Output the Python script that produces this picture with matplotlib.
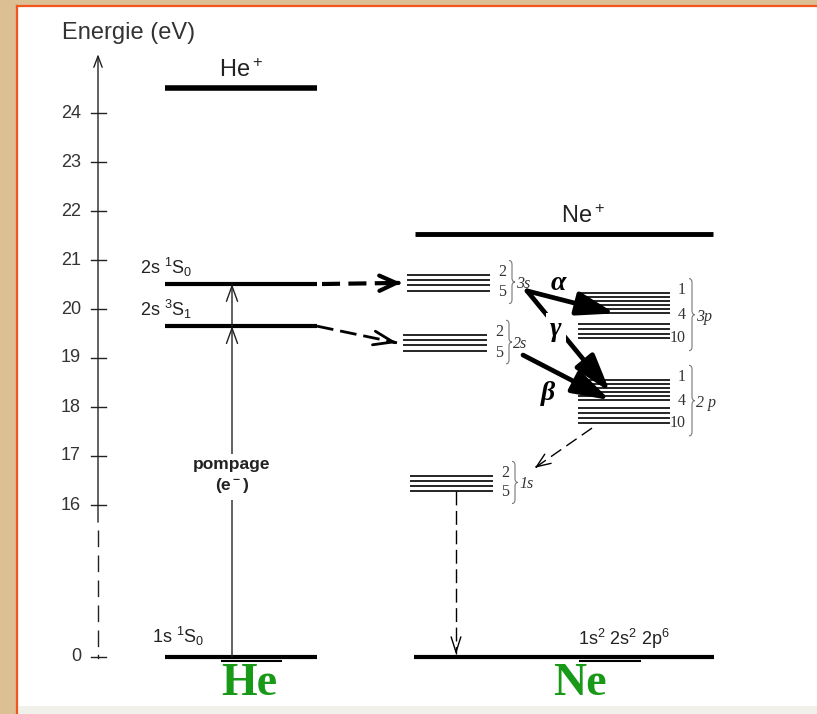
"""
He-Ne laser energy level diagram (He and Ne levels, pumping and transitions).
"""
import matplotlib
matplotlib.use("Agg")
import matplotlib.pyplot as plt
from matplotlib.patches import Rectangle, PathPatch
from matplotlib.path import Path

plt.rcParams["font.family"] = ["Liberation Sans", "DejaVu Sans"]
plt.rcParams["mathtext.fontset"] = "custom"
plt.rcParams["mathtext.rm"] = "Liberation Sans"
plt.rcParams["mathtext.it"] = "Liberation Sans:italic"
plt.rcParams["mathtext.bf"] = "Liberation Sans:bold"
plt.rcParams["lines.scale_dashes"] = False

# ── Data (energies in eV) ────────────────────────────────────────────────────
tick_values = [0, 16, 17, 18, 19, 20, 21, 22, 23, 24]

he_ion = 24.51
he_labels = [r"2s $^1$S$_0$", r"2s $^3$S$_1$", r"1s $^1$S$_0$"]
he_levels = [20.51, 19.65, 0.0]

ne_ion = 21.53
ne_3s = [20.69, 20.59, 20.48, 20.37]
ne_2s = [19.47, 19.37, 19.26, 19.14]
ne_3p = [20.32, 20.24, 20.16, 20.08, 19.99, 19.91, 19.69, 19.59, 19.50, 19.41]
ne_2p = [18.55, 18.47, 18.39, 18.31, 18.22, 18.14, 17.98, 17.88, 17.78, 17.67]
ne_1s = [16.59, 16.49, 16.39, 16.29]
ne_ground = 0.0
ne_ground_label = r"1s$^2$ 2s$^2$ 2p$^6$"

s_numbers = ["2", "5"]
p_numbers = ["1", "4", "10"]

# ── Layout (x in pixels, y in eV) ────────────────────────────────────────────
PX_PER_EV = 49.0
E_REF, Y_REF = 16.0, 505.0       # 16 eV sits at pixel row 505
GROUND_Y = 12.9                  # where 0 eV is drawn on the broken axis


def ey(ypx):
    """pixel row -> diagram y"""
    return E_REF + (Y_REF - ypx) / PX_PER_EV


def ypos(e):
    return e if e > 10 else GROUND_Y + e


AX_X = 98
HE_X = (165, 317)
PUMP_X = 232
NE_ION_X = (415, 713)
NE_3S_X = (407, 490)
NE_2S_X = (403, 487)
NE_1S_X = (410, 493)
NE_P_X = (578, 670)
NE_GND_X = (414, 714)
INK = "#222222"
GREY = "#333333"
GREEN = "#189a18"

fig = plt.figure(figsize=(8.17, 7.14), dpi=100)
fig.patch.set_facecolor("#dcbf92")
ax = fig.add_axes([0, 0, 1, 1])
ax.set_xlim(0, 817)
ax.set_ylim(ey(714), ey(0))
ax.axis("off")

# panel
ax.add_patch(Rectangle((17, ey(706)), 800, ey(6) - ey(706), fc="white", ec="none", zorder=0))
ax.add_patch(Rectangle((17, ey(714)), 800, ey(706) - ey(714), fc="#f1f0ea", ec="none", zorder=0))
ax.plot([17, 17], [ey(714), ey(6)], color="#f2561d", lw=1.6, zorder=1)
ax.plot([17, 817], [ey(6), ey(6)], color="#f2561d", lw=1.6, zorder=1)

# ── Energy axis ──────────────────────────────────────────────────────────────
ax.annotate("", xy=(AX_X, 25.2), xytext=(AX_X, 15.65),
            arrowprops=dict(arrowstyle="->,head_length=0.8,head_width=0.3",
                            lw=1.0, color=INK, shrinkA=0, shrinkB=0))
ax.plot([AX_X, AX_X], [15.48, GROUND_Y + 0.12], color=INK, lw=1.0, dashes=(12, 6))
ax.plot([AX_X, AX_X], [GROUND_Y + 0.03, GROUND_Y - 0.03], color=INK, lw=1.0)
for t in tick_values:
    ax.plot([91, 106], [ypos(t), ypos(t)], color=INK, lw=1.0)
    ax.text(81, ypos(t), str(t), ha="right", va="center", fontsize=13, color=GREY)
ax.text(62, ey(33), "Energie (eV)", ha="left", va="center", fontsize=17, color=GREY)

# ── Helium ───────────────────────────────────────────────────────────────────
ax.plot(HE_X, [he_ion, he_ion], color="k", lw=4, solid_capstyle="butt")
ax.text(241, he_ion + 0.13, r"He$^+$", ha="center", va="bottom", fontsize=17, color=INK)
label_dy = [0.2, 0.2, 0.29]
for lab, e, dy in zip(he_labels, he_levels, label_dy):
    ax.plot(HE_X, [ypos(e), ypos(e)], color="k", lw=3, solid_capstyle="butt")
    ax.text(HE_X[0] - 25 if e > 0 else HE_X[0] - 13, ypos(e) + dy, lab,
            ha="left", va="baseline", fontsize=13, color=INK)
ax.plot([222, 281], [ypos(0) - 0.08] * 2, color="k", lw=1.5)
ax.text(249, ey(684), "He", ha="center", va="center", fontsize=33,
        family="Liberation Serif", weight="bold", color=GREEN)

# pumping by electrons
pump_head = dict(arrowstyle="->,head_length=1.1,head_width=0.4", lw=1.0,
                 color=INK, shrinkA=0, shrinkB=0)
ax.annotate("", xy=(PUMP_X, he_levels[1]), xytext=(PUMP_X, ypos(he_levels[2])),
            arrowprops=pump_head, zorder=2)
ax.annotate("", xy=(PUMP_X, he_levels[0]), xytext=(PUMP_X, he_levels[1]),
            arrowprops=pump_head, zorder=2)
ax.text(PUMP_X, ey(476), "pompage\n" + r"(e$^{\bf -}$)", ha="center", va="center",
        fontsize=12.5, weight="bold", color=INK, linespacing=1.25, zorder=4,
        bbox=dict(fc="white", ec="none", pad=4))

# ── Neon ─────────────────────────────────────────────────────────────────────
ax.plot(NE_ION_X, [ne_ion, ne_ion], color="k", lw=3.5, solid_capstyle="butt")
ax.text(583, ne_ion + 0.13, r"Ne$^+$", ha="center", va="bottom", fontsize=17, color=INK)

ax.plot(NE_GND_X, [ypos(ne_ground)] * 2, color="k", lw=3, solid_capstyle="butt")
ax.text(578, ypos(ne_ground) + 0.25, ne_ground_label, ha="left", va="baseline",
        fontsize=13, color=INK)
ax.plot([580, 640], [ypos(0) - 0.08] * 2, color="k", lw=1.5)
ax.text(580, ey(684), "Ne", ha="center", va="center", fontsize=33,
        family="Liberation Serif", weight="bold", color=GREEN)


def brace(x, e_top, e_bot, w=6):
    r = 4 / PX_PER_EV
    xm, xt, em = x + w / 2, x + w, (e_top + e_bot) / 2
    verts = [(x, e_top), (xm, e_top), (xm, e_top - r), (xm, em + r),
             (xm, em), (xt, em), (xm, em), (xm, em - r),
             (xm, e_bot + r), (xm, e_bot), (x, e_bot)]
    codes = [Path.MOVETO, Path.CURVE3, Path.CURVE3, Path.LINETO,
             Path.CURVE3, Path.CURVE3, Path.CURVE3, Path.CURVE3,
             Path.LINETO, Path.CURVE3, Path.CURVE3]
    ax.add_patch(PathPatch(Path(verts, codes), fill=False, ec="#777777", lw=0.8))
    return xt, em


def group(levels, xs, numbers, name):
    for e in levels:
        ax.plot(xs, [e, e], color="k", lw=1.2, solid_capstyle="butt")
    top, bot = levels[0] + 0.3, levels[-1] - 0.26
    xt, em = brace(xs[1] + 19, top, bot)
    ax.text(xt + 1, em - 0.04, name, ha="left", va="center", fontsize=11.5,
            family="Liberation Serif", style="italic", color=GREY)
    ys = [levels[0] + 0.06, levels[-1] - 0.03] if len(numbers) == 2 else \
         [levels[0] + 0.06, em, levels[-1]]
    for n, y in zip(numbers, ys):
        ax.text(xs[1] + 16, y, n, ha="right", va="center", fontsize=11.5,
                family="Liberation Serif", color=GREY)


group(ne_3s, NE_3S_X, s_numbers, "3s")
group(ne_2s, NE_2S_X, s_numbers, "2s")
group(ne_1s, NE_1S_X, s_numbers, "1s")
group(ne_3p, NE_P_X, p_numbers, "3p")
group(ne_2p, NE_P_X, p_numbers, "2 p")


def dashed_arrow(p0, p1, lw, dashes, hl, hw):
    (x0, y0), (x1, y1) = p0, p1
    ax.plot([x0, x1], [y0, y1], color="k", lw=lw, dashes=dashes, solid_capstyle="butt")
    f = 0.97
    ax.annotate("", xy=p1, xytext=(x0 + f * (x1 - x0), y0 + f * (y1 - y0)),
                arrowprops=dict(arrowstyle=f"->,head_length={hl},head_width={hw}",
                                lw=lw, color="k", shrinkA=0, shrinkB=0))


def mean(v):
    return sum(v) / len(v)


# He -> Ne energy transfer
dashed_arrow((322, he_levels[0]), (NE_3S_X[0] - 6, mean(ne_3s)), 3.0, (13, 6), 1.2, 0.55)
dashed_arrow((HE_X[1], he_levels[1]), (NE_2S_X[0] - 6, mean(ne_2s)), 2.0, (12, 5), 1.4, 0.5)
# spontaneous decays
dashed_arrow((592, ne_2p[-1] - 0.1), (535, ne_1s[0] + 0.17), 1.0, (9, 4.5), 1.0, 0.4)
dashed_arrow((456, ne_1s[-1]), (456, ypos(ne_ground) + 0.05), 1.0, (10, 4), 1.1, 0.35)

# laser transitions
laser = dict(arrowstyle="-|>,head_length=1.15,head_width=0.36", mutation_scale=20,
             lw=3.4, color="k", shrinkA=0, shrinkB=0)
ax.annotate("", xy=(615, ne_3p[5]), xytext=(527, ne_3s[-1]), arrowprops=laser, zorder=3)
ax.annotate("", xy=(610, ne_2p[3]), xytext=(527, ne_3s[-1]), arrowprops=laser, zorder=3)
ax.annotate("", xy=(610, ne_2p[5]), xytext=(523, ne_2s[-1] - 0.08), arrowprops=laser, zorder=3)

greek = dict(ha="center", va="center", fontsize=20, family="Liberation Serif",
             weight="bold", style="italic", color="k", zorder=5)
ax.text(558, ey(283), "α", **greek)
ax.text(556, ey(330), "γ", bbox=dict(fc="white", ec="none", pad=3), **greek)
ax.text(548, ey(394), "β", **greek)

fig.savefig("out.png", dpi=100, facecolor=fig.get_facecolor())
